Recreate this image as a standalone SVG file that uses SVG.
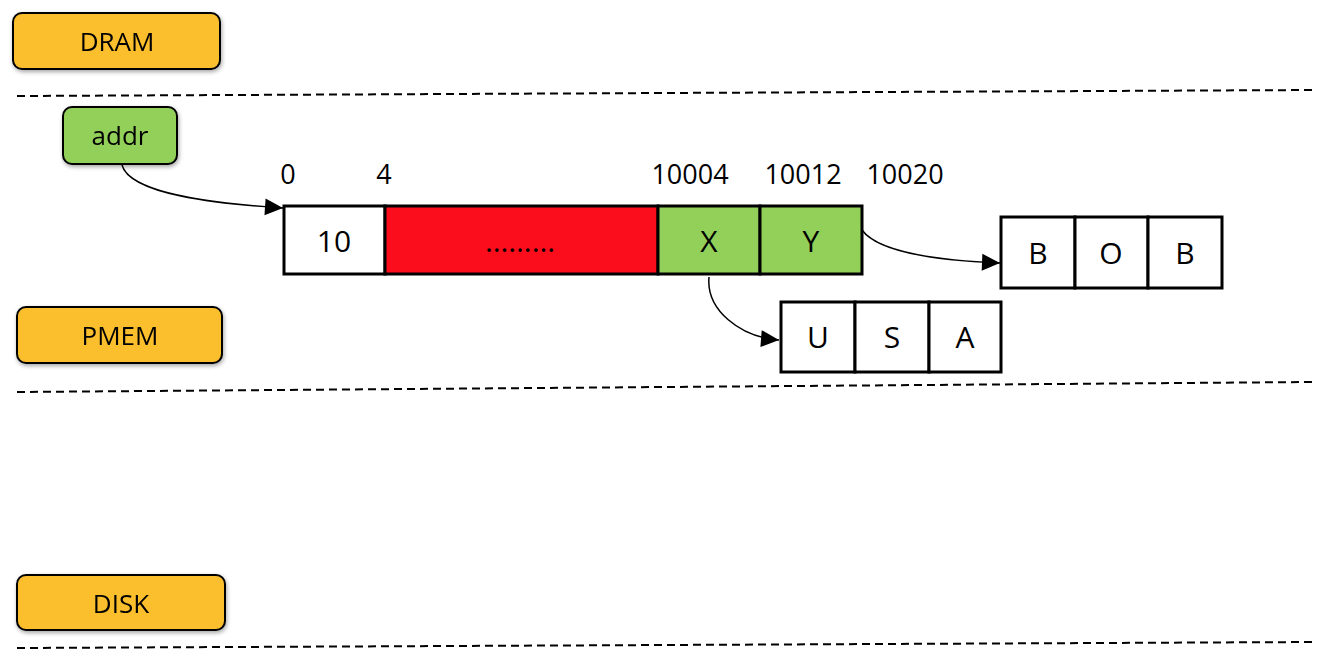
<svg xmlns="http://www.w3.org/2000/svg" width="1330" height="666" viewBox="0 0 1330 666">
<style>
.lbl{fill:#FBBF2D;stroke:#000;stroke-width:2}
.grn{fill:#92D05A;stroke:#000;stroke-width:2}
.t{font-family:"Open Sans","Liberation Sans",sans-serif;font-size:26px;text-anchor:middle;fill:#000}
.o{font-family:"Open Sans","Liberation Sans",sans-serif;font-size:27px;text-anchor:middle;fill:#000}
.c{font-family:"Open Sans","Liberation Sans",sans-serif;font-size:30px;text-anchor:middle;fill:#000}
.cell{stroke:#000;stroke-width:3}
.dash{stroke:#000;stroke-width:2;stroke-dasharray:8 5;fill:none}
.conn{stroke:#000;stroke-width:1.5;fill:none;marker-end:url(#ah)}
</style>
<defs>
<marker id="ah" markerWidth="19" markerHeight="17" refX="18" refY="8.5" orient="auto" markerUnits="userSpaceOnUse" overflow="visible">
<path d="M0,0 L18,8.5 L0,17 z" fill="#000"/>
</marker>
<filter id="sh" x="-10%" y="-10%" width="130%" height="140%">
<feDropShadow dx="1" dy="2" stdDeviation="2" flood-opacity="0.35"/>
</filter>
</defs>
<g id="separators">
<line class="dash" x1="17" y1="96" x2="1313" y2="90"/>
<line class="dash" x1="17" y1="392" x2="1313" y2="382"/>
<line class="dash" x1="17" y1="648" x2="1313" y2="642"/>
</g>
<g id="dram" filter="url(#sh)">
<rect class="lbl" x="13" y="13" width="207" height="56" rx="9"/>
<text class="t" x="117" y="51">DRAM</text>
</g>
<g id="pmem" filter="url(#sh)">
<rect class="lbl" x="17" y="307" width="205" height="56" rx="9"/>
<text class="t" x="120" y="345">PMEM</text>
</g>
<g id="disk" filter="url(#sh)">
<rect class="lbl" x="17" y="575" width="208" height="55" rx="9"/>
<text class="t" x="121" y="613">DISK</text>
</g>
<g id="addr" filter="url(#sh)">
<rect class="grn" x="63" y="107" width="114" height="57" rx="9"/>
<text class="t" x="120" y="145">addr</text>
</g>
<g id="offsets">
<text class="o" x="288" y="184">0</text>
<text class="o" x="384" y="184">4</text>
<text class="o" x="690" y="184">10004</text>
<text class="o" x="803" y="184">10012</text>
<text class="o" x="905" y="184">10020</text>
</g>
<g id="array">
<rect class="cell" x="284" y="206" width="101" height="68" fill="#fff"/>
<rect class="cell" x="385" y="206" width="273" height="68" fill="#FC0D1B"/>
<rect class="cell" x="658" y="206" width="102" height="68" fill="#92D05A"/>
<rect class="cell" x="760" y="206" width="102" height="68" fill="#92D05A"/>
<text class="c" x="334" y="252">10</text>
<text class="c" x="520" y="252">………</text>
<text class="c" x="709" y="252">X</text>
<text class="c" x="811" y="252">Y</text>
</g>
<g id="bob">
<rect class="cell" x="1001" y="217" width="74" height="71" fill="#fff"/>
<rect class="cell" x="1075" y="217" width="73" height="71" fill="#fff"/>
<rect class="cell" x="1148" y="217" width="74" height="71" fill="#fff"/>
<text class="c" x="1038" y="264">B</text>
<text class="c" x="1111" y="264">O</text>
<text class="c" x="1185" y="264">B</text>
</g>
<g id="usa">
<rect class="cell" x="781" y="302" width="74" height="70" fill="#fff"/>
<rect class="cell" x="855" y="302" width="74" height="70" fill="#fff"/>
<rect class="cell" x="929" y="302" width="72" height="70" fill="#fff"/>
<text class="c" x="818" y="348">U</text>
<text class="c" x="892" y="348">S</text>
<text class="c" x="965" y="348">A</text>
</g>
<g id="connectors">
<path class="conn" d="M122,165 C130,195 220,204 283,208"/>
<path class="conn" d="M862,230 C880,255 950,261 1000,263"/>
<path class="conn" d="M709,277 C706,310 740,337 779,340"/>
</g>
</svg>
